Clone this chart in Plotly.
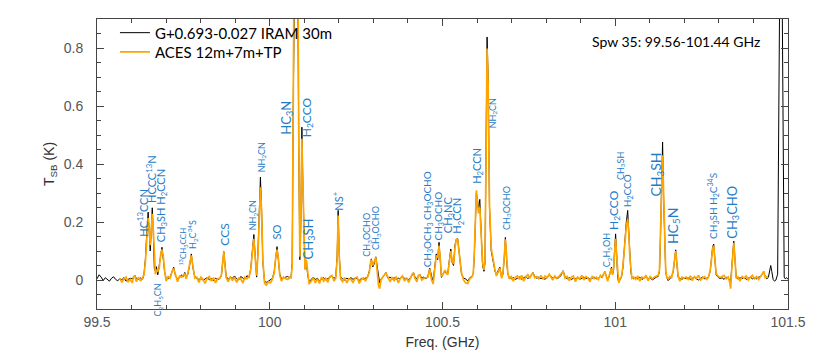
import plotly.graph_objects as go

# spectrum (GHz, K); None = outside the ACES window
freq_ghz = [
    99.500, 99.506, 99.512, 99.518, 99.524, 99.530, 99.536, 99.542, 99.548, 99.554,
    99.560, 99.566, 99.572, 99.578, 99.584, 99.590, 99.596, 99.602, 99.606, 99.610,
    99.614, 99.620, 99.626, 99.632, 99.636, 99.640, 99.644, 99.648, 99.651, 99.654,
    99.657, 99.660, 99.663, 99.666, 99.669, 99.672, 99.676, 99.680, 99.684, 99.688,
    99.692, 99.696, 99.700, 99.706, 99.712, 99.717, 99.722, 99.727, 99.733, 99.739,
    99.745, 99.750, 99.754, 99.758, 99.763, 99.768, 99.773, 99.778, 99.783, 99.789,
    99.795, 99.801, 99.807, 99.813, 99.819, 99.825, 99.831, 99.837, 99.843, 99.849,
    99.855, 99.860, 99.864, 99.867, 99.870, 99.874, 99.880, 99.886, 99.892, 99.898,
    99.904, 99.910, 99.916, 99.922, 99.928, 99.934, 99.940, 99.945, 99.950, 99.954,
    99.958, 99.962, 99.966, 99.970, 99.973, 99.976, 99.980, 99.985, 99.990, 99.996,
    100.002, 100.008, 100.013, 100.017, 100.021, 100.025, 100.029, 100.034, 100.040, 100.046,
    100.052, 100.058, 100.062, 100.065, 100.068, 100.072, 100.076, 100.080, 100.084, 100.087,
    100.090, 100.093, 100.096, 100.099, 100.102, 100.106, 100.110, 100.114, 100.120, 100.126,
    100.132, 100.138, 100.144, 100.150, 100.156, 100.162, 100.168, 100.174, 100.180, 100.186,
    100.191, 100.195, 100.198, 100.201, 100.205, 100.211, 100.217, 100.223, 100.229, 100.235,
    100.241, 100.247, 100.253, 100.259, 100.265, 100.271, 100.277, 100.283, 100.288, 100.291,
    100.294, 100.298, 100.302, 100.307, 100.311, 100.315, 100.318, 100.322, 100.328, 100.336,
    100.342, 100.348, 100.354, 100.360, 100.366, 100.372, 100.378, 100.384, 100.390, 100.396,
    100.402, 100.408, 100.412, 100.416, 100.420, 100.426, 100.430, 100.434, 100.440, 100.446,
    100.452, 100.458, 100.463, 100.468, 100.473, 100.477, 100.482, 100.486, 100.490, 100.494,
    100.497, 100.501, 100.507, 100.511, 100.515, 100.519, 100.524, 100.528, 100.532, 100.536,
    100.540, 100.544, 100.549, 100.555, 100.561, 100.567, 100.573, 100.579, 100.585, 100.589,
    100.592, 100.595, 100.598, 100.601, 100.604, 100.608, 100.612, 100.616, 100.620, 100.623,
    100.626, 100.629, 100.632, 100.636, 100.641, 100.647, 100.652, 100.656, 100.661, 100.666,
    100.671, 100.675, 100.679, 100.682, 100.685, 100.689, 100.693, 100.699, 100.705, 100.711,
    100.717, 100.723, 100.729, 100.735, 100.741, 100.747, 100.753, 100.758, 100.762, 100.767,
    100.773, 100.779, 100.785, 100.791, 100.797, 100.803, 100.809, 100.813, 100.819, 100.825,
    100.831, 100.837, 100.843, 100.849, 100.855, 100.861, 100.867, 100.873, 100.879, 100.885,
    100.891, 100.897, 100.903, 100.909, 100.915, 100.921, 100.927, 100.933, 100.939, 100.945,
    100.951, 100.957, 100.962, 100.966, 100.970, 100.974, 100.978, 100.982, 100.986, 100.989,
    100.992, 100.995, 100.998, 101.001, 101.004, 101.007, 101.010, 101.014, 101.018, 101.022,
    101.025, 101.028, 101.032, 101.036, 101.039, 101.042, 101.045, 101.048, 101.053, 101.059,
    101.065, 101.071, 101.077, 101.083, 101.089, 101.095, 101.101, 101.107, 101.113, 101.119,
    101.124, 101.128, 101.131, 101.134, 101.137, 101.140, 101.143, 101.146, 101.149, 101.153,
    101.158, 101.163, 101.168, 101.172, 101.175, 101.178, 101.182, 101.187, 101.193, 101.199,
    101.205, 101.211, 101.217, 101.223, 101.229, 101.235, 101.241, 101.247, 101.253, 101.259,
    101.265, 101.270, 101.275, 101.279, 101.282, 101.285, 101.288, 101.292, 101.297, 101.303,
    101.309, 101.315, 101.321, 101.327, 101.331, 101.334, 101.337, 101.340, 101.343, 101.346,
    101.350, 101.355, 101.361, 101.367, 101.373, 101.379, 101.385, 101.391, 101.397, 101.403,
    101.409, 101.415, 101.421, 101.426, 101.430, 101.434, 101.439, 101.443, 101.447, 101.450,
    101.453, 101.457, 101.461, 101.465, 101.470, 101.475, 101.479, 101.483, 101.486, 101.489,
    101.492, 101.496, 101.500,
]

t_iram = [
    0.004, 0.018, 0.010, -0.002, 0.008, 0.003, -0.004, 0.006, 0.011, 0.002,
    -0.003, 0.005, 0.001, 0.008, -0.004, 0.002, 0.006, 0.004, 0.010, 0.016,
    0.004, 0.002, 0.007, 0.003, 0.020, 0.070, 0.160, 0.234, 0.170, 0.100,
    0.170, 0.249, 0.160, 0.040, 0.030, 0.046, 0.018, 0.050, 0.095, 0.113,
    0.070, 0.025, 0.006, 0.004, 0.012, 0.030, 0.044, 0.015, 0.004, 0.008,
    0.018, 0.012, 0.026, 0.010, 0.020, 0.050, 0.090, 0.040, 0.012, 0.005,
    0.002, 0.006, -0.002, 0.004, 0.008, 0.001, 0.005, -0.003, 0.006, 0.002,
    0.004, 0.015, 0.060, 0.098, 0.060, 0.012, 0.003, 0.010, 0.006, 0.014,
    0.004, 0.000, 0.012, 0.006, 0.002, 0.015, 0.008, 0.040, 0.110, 0.157,
    0.080, 0.010, 0.100, 0.280, 0.355, 0.260, 0.060, -0.005, -0.008, -0.004,
    0.000, 0.006, 0.030, 0.080, 0.115, 0.070, 0.020, 0.004, 0.008, 0.010,
    0.012, 0.006, 0.014, 0.060, 0.600, 1.300, 1.500, 1.250, 0.450, 0.070,
    0.200, 0.527, 0.320, 0.110, 0.040, 0.061, 0.015, -0.006, 0.004, 0.010,
    0.002, 0.006, -0.004, 0.003, 0.008, 0.000, 0.005, 0.010, 0.014, 0.006,
    0.010, 0.080, 0.240, 0.090, 0.010, 0.004, 0.000, 0.006, 0.003, 0.008,
    0.002, 0.007, 0.004, -0.002, 0.006, 0.003, 0.008, 0.010, 0.030, 0.060,
    0.073, 0.045, 0.055, 0.080, 0.040, 0.000, -0.010, 0.004, 0.010, 0.026,
    0.006, 0.010, 0.003, 0.008, 0.002, 0.006, 0.004, 0.012, 0.006, 0.004,
    0.002, 0.008, 0.018, 0.026, 0.012, 0.004, 0.012, 0.020, 0.006, 0.010,
    0.004, 0.014, 0.041, 0.012, -0.008, 0.040, 0.090, 0.070, 0.130, 0.060,
    0.009, 0.020, 0.032, 0.022, 0.020, 0.060, 0.107, 0.060, 0.050, 0.120,
    0.140, 0.142, 0.085, 0.020, 0.006, 0.004, -0.004, 0.008, 0.012, 0.020,
    0.080, 0.200, 0.300, 0.280, 0.245, 0.278, 0.150, 0.050, 0.030, 0.060,
    0.450, 0.838, 0.700, 0.250, 0.100, 0.055, 0.030, 0.020, 0.030, 0.044,
    0.010, 0.020, 0.080, 0.147, 0.080, 0.020, 0.010, 0.004, 0.008, 0.002,
    0.006, 0.010, 0.003, 0.008, 0.012, 0.005, 0.010, 0.018, 0.026, 0.012,
    0.006, 0.010, 0.004, 0.008, 0.002, 0.010, 0.018, 0.014, 0.006, 0.010,
    0.004, 0.008, 0.016, 0.032, 0.010, 0.004, 0.008, 0.002, 0.006, 0.004,
    0.008, 0.002, 0.006, 0.010, 0.004, 0.008, 0.002, 0.006, 0.010, 0.004,
    0.006, 0.012, 0.008, 0.020, 0.026, 0.014, 0.002, 0.010, 0.030, 0.044,
    0.020, 0.030, 0.100, 0.159, 0.090, 0.010, -0.008, 0.000, 0.010, 0.040,
    0.090, 0.147, 0.200, 0.240, 0.170, 0.078, 0.030, 0.010, 0.004, 0.008,
    0.004, 0.010, 0.002, 0.006, 0.012, 0.004, 0.008, 0.000, 0.006, 0.010,
    0.012, 0.030, 0.150, 0.330, 0.476, 0.280, 0.090, 0.030, 0.009, -0.002,
    0.004, 0.010, 0.030, 0.075, 0.104, 0.060, 0.009, 0.006, 0.002, 0.008,
    0.004, 0.008, 0.002, 0.006, 0.010, 0.004, 0.000, 0.006, 0.010, 0.004,
    0.006, 0.012, 0.030, 0.080, 0.115, 0.124, 0.070, 0.018, 0.010, 0.004,
    0.008, 0.002, 0.010, 0.006, 0.000, -0.010, 0.040, 0.110, 0.134, 0.080,
    0.010, 0.003, 0.008, 0.004, 0.010, 0.002, 0.006, 0.010, 0.004, 0.008,
    0.004, 0.010, 0.012, 0.020, 0.028, 0.010, 0.004, 0.008, 0.030, 0.050,
    0.030, 0.002, -0.004, 0.000, 0.020, 1.100, 1.500, 1.000, 0.300, 0.010,
    0.004, 0.008, 0.002,
]

t_aces = [
    None, None, None, None, None, None, None, None, None, None,
    None, 0.006, -0.008, 0.004, 0.010, -0.006, 0.002, -0.010, 0.012, 0.014,
    -0.006, 0.010, -0.004, 0.008, 0.018, 0.060, 0.150, 0.214, 0.180, 0.120,
    0.170, 0.228, 0.175, 0.060, 0.020, 0.035, 0.030, 0.040, 0.085, 0.105,
    0.080, 0.030, -0.004, 0.012, 0.006, 0.028, 0.040, 0.020, -0.006, 0.014,
    0.010, 0.016, 0.022, 0.004, 0.024, 0.055, 0.085, 0.045, 0.006, 0.010,
    -0.008, 0.010, 0.002, -0.012, 0.006, 0.012, -0.004, 0.008, -0.010, 0.004,
    0.006, 0.018, 0.065, 0.098, 0.055, 0.008, -0.006, 0.012, -0.002, 0.010,
    -0.008, 0.006, 0.004, -0.010, 0.010, 0.004, 0.012, 0.035, 0.100, 0.142,
    0.075, 0.015, 0.090, 0.250, 0.320, 0.250, 0.070, -0.012, -0.018, -0.006,
    -0.010, 0.004, 0.025, 0.075, 0.105, 0.075, 0.015, -0.004, 0.010, 0.004,
    0.002, 0.010, 0.008, 0.050, 0.650, 1.400, 1.600, 1.350, 0.500, 0.080,
    0.180, 0.487, 0.330, 0.120, 0.035, 0.070, 0.020, -0.014, -0.004, 0.008,
    -0.010, 0.004, -0.012, 0.010, -0.004, 0.006, -0.008, 0.012, 0.016, -0.004,
    0.006, 0.070, 0.222, 0.085, 0.004, -0.006, 0.008, -0.010, 0.004, 0.002,
    -0.008, 0.006, 0.010, -0.012, 0.002, 0.008, -0.004, 0.012, 0.025, 0.055,
    0.070, 0.050, 0.060, 0.078, 0.030, -0.020, -0.030, 0.000, 0.012, 0.024,
    0.010, -0.006, 0.008, -0.002, 0.012, -0.010, 0.006, 0.014, -0.004, 0.008,
    -0.008, 0.012, 0.020, 0.024, 0.006, -0.006, 0.016, 0.018, 0.000, 0.006,
    0.008, 0.010, 0.038, 0.002, -0.014, 0.035, 0.085, 0.075, 0.119, 0.065,
    0.012, 0.018, 0.034, 0.026, 0.018, 0.055, 0.100, 0.065, 0.055, 0.110,
    0.142, 0.138, 0.090, 0.025, 0.000, -0.010, -0.012, 0.004, 0.010, 0.022,
    0.090, 0.220, 0.309, 0.270, 0.230, 0.250, 0.160, 0.060, 0.035, 0.070,
    0.420, 0.798, 0.680, 0.260, 0.110, 0.060, 0.035, 0.014, 0.028, 0.040,
    0.006, 0.025, 0.085, 0.140, 0.090, 0.025, 0.004, 0.012, -0.004, 0.010,
    0.014, 0.002, 0.016, -0.004, 0.010, 0.018, 0.006, 0.020, 0.024, 0.008,
    0.012, 0.004, 0.016, 0.002, 0.014, 0.008, 0.020, 0.010, 0.000, 0.014,
    0.006, 0.012, 0.020, 0.030, 0.006, 0.012, -0.002, 0.010, 0.014, -0.006,
    0.010, 0.004, 0.016, 0.000, 0.012, 0.006, -0.006, 0.014, 0.004, 0.010,
    0.002, 0.016, 0.010, 0.018, 0.030, 0.012, -0.004, 0.014, 0.028, 0.040,
    0.018, 0.040, 0.095, 0.142, 0.085, 0.015, -0.010, 0.004, 0.012, 0.045,
    0.095, 0.140, 0.185, 0.210, 0.165, 0.085, 0.035, 0.006, 0.010, 0.002,
    0.014, -0.004, 0.010, 0.006, 0.016, -0.002, 0.012, 0.004, 0.010, 0.014,
    0.016, 0.035, 0.140, 0.300, 0.430, 0.270, 0.095, 0.035, 0.010, 0.004,
    0.012, 0.008, 0.035, 0.070, 0.100, 0.065, 0.014, -0.004, 0.010, 0.006,
    0.010, 0.002, 0.014, -0.002, 0.012, 0.006, 0.016, 0.000, 0.008, 0.012,
    0.002, 0.010, 0.035, 0.075, 0.110, 0.118, 0.075, 0.022, 0.014, 0.008,
    0.012, 0.016, 0.004, 0.010, -0.006, -0.030, 0.035, 0.105, 0.128, 0.085,
    0.006, 0.010, -0.004, 0.012, 0.006, 0.014, 0.000, 0.010, 0.016, 0.004,
    0.012, 0.002, 0.016, 0.022, 0.030, 0.008, 0.012, 0.006, None, None,
    None, None, None, None, None, None, None, None, None, None,
    None, None, None,
]

# line identifications: label, frequency (GHz), height of label foot (K), font size
line_labels = [
    ("HC<sup>13</sup>CCN", 99.633, 0.142, 11),
    ("HCCC<sup>13</sup>N", 99.657, 0.258, 11),
    ("CH<sub>3</sub>SH H<sub>2</sub>CCN", 99.687, 0.124, 11),
    ("<sup>13</sup>CH<sub>3</sub>CCH", 99.750, 0.044, 8),
    ("H<sub>2</sub>C<sup>34</sup>S", 99.777, 0.101, 9),
    ("CCS", 99.869, 0.113, 12),
    ("NH<sub>2</sub>CN", 99.952, 0.165, 9),
    ("NH<sub>2</sub>CN", 99.976, 0.366, 9),
    ("SO", 100.019, 0.132, 11),
    ("HC<sub>3</sub>N", 100.049, 0.493, 13),
    ("H<sub>2</sub>CCO", 100.109, 0.487, 12),
    ("CH<sub>3</sub>SH", 100.112, 0.064, 13),
    ("NS<sup>+</sup>", 100.196, 0.232, 11),
    ("CH<sub>3</sub>OCHO", 100.283, 0.072, 9),
    ("CH<sub>3</sub>OCHO", 100.309, 0.095, 9),
    ("CH<sub>3</sub>OCH<sub>3</sub> CH<sub>3</sub>OCHO", 100.459, 0.038, 10),
    ("CH<sub>3</sub>OCHO", 100.489, 0.130, 10),
    ("CH<sub>3</sub>NC", 100.516, 0.153, 11),
    ("H<sub>2</sub>CCN", 100.545, 0.153, 11),
    ("H<sub>2</sub>CCN", 100.601, 0.326, 11),
    ("NH<sub>2</sub>CN", 100.646, 0.516, 9),
    ("CH<sub>3</sub>OCHO", 100.686, 0.165, 9),
    ("C<sub>2</sub>H<sub>5</sub>OH", 100.977, 0.038, 9),
    ("H<sub>2</sub>CCO", 100.996, 0.165, 12),
    ("H<sub>2</sub>CCO", 101.036, 0.245, 10),
    ("CH<sub>3</sub>SH", 101.016, 0.337, 9),
    ("CH<sub>3</sub>SH", 101.120, 0.280, 14),
    ("HC<sub>5</sub>N", 101.168, 0.118, 14),
    ("CH<sub>3</sub>SH H<sub>2</sub>C<sup>34</sup>S", 101.281, 0.136, 10),
    ("CH<sub>3</sub>CHO", 101.340, 0.136, 13),
]
# labels hung below the baseline
low_labels = [
    ("C<sub>2</sub>H<sub>5</sub>CN", 99.677, -0.006, 9),
]

LABEL_BLUE = "#1f7cc6"
AXIS_GREY = "#555555"

fig = go.Figure()

fig.add_trace(go.Scatter(x=freq_ghz, y=t_iram, mode="lines", name="G+0.693-0.027 IRAM 30m",
                         line=dict(color="black", width=1), legend="legend"))
fig.add_trace(go.Scatter(x=freq_ghz, y=t_aces, mode="lines", name="ACES 12m+7m+TP",
                         line=dict(color="#ffa500", width=1.7), connectgaps=False,
                         legend="legend2"))

annotations = []
for text, f, y, size in line_labels:
    annotations.append(dict(x=f, y=y, xref="x", yref="y", text=text, textangle=-90,
                            showarrow=False, xanchor="center", yanchor="bottom",
                            font=dict(family="Lato", size=size, color=LABEL_BLUE)))
for text, f, y, size in low_labels:
    annotations.append(dict(x=f, y=y, xref="x", yref="y", text=text, textangle=-90,
                            showarrow=False, xanchor="center", yanchor="top",
                            font=dict(family="Lato", size=size, color=LABEL_BLUE)))
annotations.append(dict(x=0.962, y=0.922, xref="paper", yref="paper",
                        text="Spw 35: 99.56-101.44 GHz", showarrow=False,
                        xanchor="right", yanchor="middle",
                        font=dict(family="Lato", size=14, color="black")))

legend_style = dict(xanchor="left", yanchor="middle", bgcolor="rgba(0,0,0,0)",
                    borderwidth=0, font=dict(family="Lato", size=15, color="black"))

fig.update_layout(
    width=821, height=363,
    margin=dict(l=97, r=33, t=19, b=54),
    plot_bgcolor="white", paper_bgcolor="white",
    showlegend=True,
    legend=dict(x=0.026, y=0.952, **legend_style),
    legend2=dict(x=0.026, y=0.886, **legend_style),
    annotations=annotations,
    hovermode=False,
)

fig.update_xaxes(range=[99.5, 101.5], dtick=0.5, tick0=99.5,
                 ticks="inside", ticklen=7, tickcolor="#444",
                 minor=dict(dtick=0.1, ticks="inside", ticklen=4, tickcolor="#444"),
                 showline=True, linecolor="#444", linewidth=1, mirror="ticks",
                 showgrid=False, zeroline=False,
                 tickfont=dict(family="Liberation Sans", size=14, color=AXIS_GREY),
                 title=dict(text="Freq. (GHz)", standoff=8,
                            font=dict(family="Liberation Sans", size=14, color="#333")))
fig.update_yaxes(range=[-0.1, 0.9], dtick=0.2, tick0=0,
                 ticks="inside", ticklen=7, tickcolor="#444",
                 minor=dict(dtick=0.05, ticks="inside", ticklen=4, tickcolor="#444"),
                 showline=True, linecolor="#444", linewidth=1, mirror="ticks",
                 showgrid=False, zeroline=False, ticklabelstandoff=10,
                 tickfont=dict(family="Liberation Sans", size=14, color=AXIS_GREY),
                 title=dict(text="T<sub>SB</sub> (K)", standoff=5,
                            font=dict(family="Liberation Sans", size=14, color="#333")))

# the page's default body margin would push the figure 8px down and right
fig.write_html("out.html", config={"displayModeBar": False},
               post_script="document.body.style.margin = '0';")
